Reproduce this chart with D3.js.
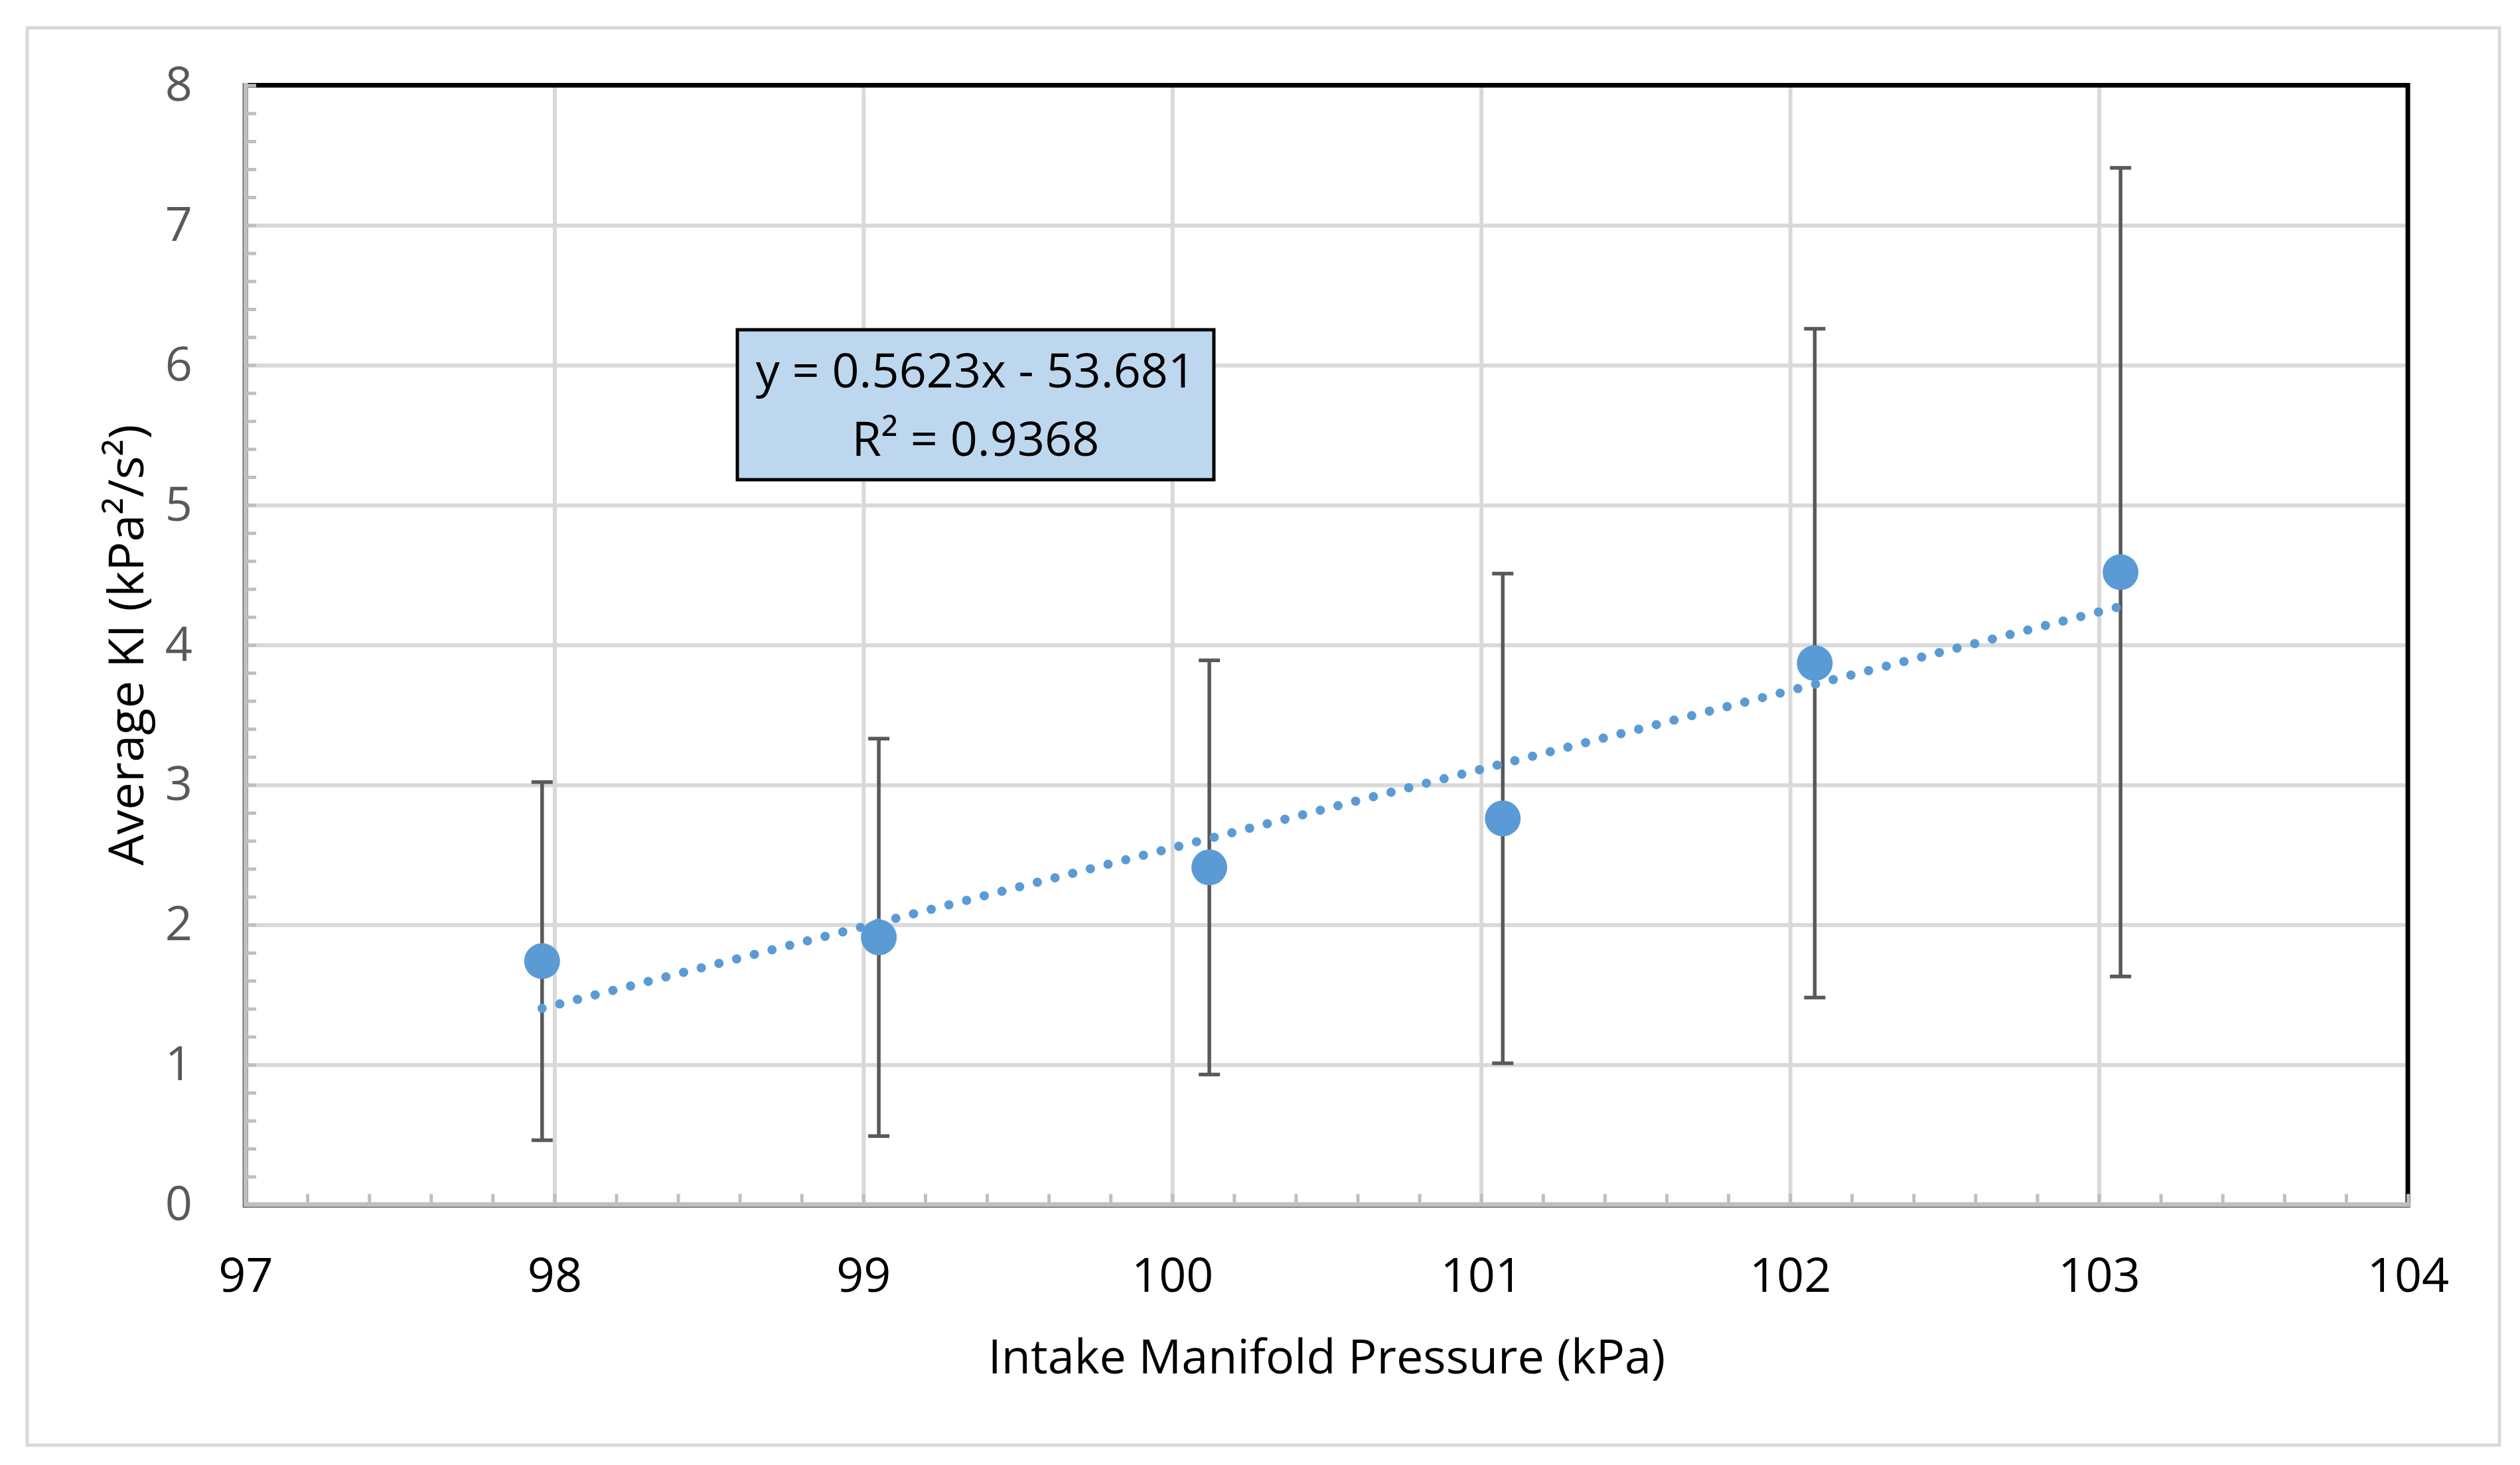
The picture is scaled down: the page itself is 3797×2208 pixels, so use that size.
<!DOCTYPE html>
<html>
<head>
<meta charset="utf-8">
<script src="https://cdn.jsdelivr.net/npm/d3@7/dist/d3.min.js"></script>
<style>
    body{margin:0;background:#fff;}
    text{font-family:"Open Sans","Noto Sans",sans-serif;}
</style>
</head>
<body>
<div id="chart"></div>
<script>
// data
const pressure = [97.96, 99.05, 100.12, 101.07, 102.08, 103.07];
const avgKI = [1.74, 1.91, 2.41, 2.76, 3.87, 4.52];
const errKI = [1.28, 1.42, 1.48, 1.75, 2.39, 2.89];
const xTicks = [97, 98, 99, 100, 101, 102, 103, 104];
const yTicks = [0, 1, 2, 3, 4, 5, 6, 7, 8];
const slope = 0.5623;
const intercept = -53.681;
const eqLines = ['y = 0.5623x - 53.681', 'R² = 0.9368'];

document.addEventListener('DOMContentLoaded', function(){
    const w = 3797;
    const h = 2208;
    const left = 370, right = 3628, top = 128.5, bottom = 1815.5;

    const xScale = d3.scaleLinear().domain([97, 104]).range([left, right]);
    const yScale = d3.scaleLinear().domain([0, 8]).range([bottom, top]);

    const svg = d3.select('#chart')
                  .append('svg')
                  .attr('width', w)
                  .attr('height', h);

    svg.append('rect').attr('width', w).attr('height', h).attr('fill', '#fff');

    // outer chart frame
    svg.append('rect')
        .attr('x', 41).attr('y', 42)
        .attr('width', 3725).attr('height', 2136)
        .attr('fill', 'none')
        .attr('stroke', '#d9d9d9')
        .attr('stroke-width', 5);

    // gridlines
    svg.append('g')
        .attr('transform', `translate(0,${bottom})`)
        .call(d3.axisBottom(xScale).tickValues(xTicks).tickSize(-(bottom - top)).tickFormat(''))
        .call(g => {
            g.select('.domain').remove();
            g.selectAll('line').attr('stroke', '#d9d9d9').attr('stroke-width', 6);
        });
    svg.append('g')
        .attr('transform', `translate(${left},0)`)
        .call(d3.axisLeft(yScale).tickValues(yTicks).tickSize(-(right - left)).tickFormat(''))
        .call(g => {
            g.select('.domain').remove();
            g.selectAll('line').attr('stroke', '#d9d9d9').attr('stroke-width', 6);
        });

    // black plot border
    svg.append('rect')
        .attr('x', left).attr('y', top)
        .attr('width', right - left).attr('height', bottom - top)
        .attr('fill', 'none')
        .attr('stroke', '#000')
        .attr('stroke-width', 7);

    // minor ticks (every 0.2), pointing inward
    const xMinor = d3.range(97, 104.001, 0.2);
    const yMinor = d3.range(0, 8.001, 0.2);
    svg.append('g')
        .attr('transform', `translate(0,${bottom})`)
        .call(d3.axisBottom(xScale).tickValues(xMinor).tickSize(-16).tickFormat(''))
        .call(g => {
            g.select('.domain').remove();
            g.selectAll('line').attr('stroke', '#bfbfbf').attr('stroke-width', 5);
        });
    svg.append('g')
        .attr('transform', `translate(${left},0)`)
        .call(d3.axisLeft(yScale).tickValues(yMinor).tickSize(-16).tickFormat(''))
        .call(g => {
            g.select('.domain').remove();
            g.selectAll('line').attr('stroke', '#bfbfbf').attr('stroke-width', 5);
        });

    // gray axis lines with thin dark edge
    svg.append('path')
        .attr('d', `M${left - 3.5},${top - 3.5}V${bottom + 3.5}H${right + 3.5}`)
        .attr('fill', 'none').attr('stroke', '#000').attr('stroke-width', 1.5);
    svg.append('path')
        .attr('d', `M${left},${top - 3.5}V${bottom}H${right + 3.5}`)
        .attr('fill', 'none').attr('stroke', '#bfbfbf').attr('stroke-width', 7);

    // tick labels
    svg.append('g')
        .attr('transform', `translate(0,${bottom})`)
        .call(d3.axisBottom(xScale).tickValues(xTicks).tickSize(0).tickPadding(80).tickFormat(d3.format('d')))
        .call(g => {
            g.select('.domain').remove();
            g.selectAll('text').attr('font-size', 72).attr('font-family', '"Open Sans"').attr('fill', '#000');
        });
    svg.append('g')
        .attr('transform', `translate(${left},0)`)
        .call(d3.axisLeft(yScale).tickValues(yTicks).tickSize(0).tickPadding(80).tickFormat(d3.format('d')))
        .call(g => {
            g.select('.domain').remove();
            g.selectAll('text').attr('font-size', 72).attr('font-family', '"Open Sans"').attr('fill', '#595959');
        });

    // axis titles
    svg.append('text')
        .attr('x', (left + right) / 2).attr('y', 2070)
        .attr('text-anchor', 'middle')
        .attr('font-size', 72)
        .attr('fill', '#000')
        .text('Intake Manifold Pressure (kPa)');
    svg.append('text')
        .attr('transform', `translate(216,${(top + bottom) / 2}) rotate(-90)`)
        .attr('text-anchor', 'middle')
        .attr('font-size', 74)
        .attr('fill', '#000')
        .text('Average KI (kPa²/s²)');

    // error bars
    const bars = svg.append('g').attr('stroke', '#595959').attr('stroke-width', 5.5);
    pressure.forEach((p, i) => {
        const lo = avgKI[i] - errKI[i], hi = avgKI[i] + errKI[i];
        bars.append('line')
            .attr('x1', xScale(p)).attr('x2', xScale(p))
            .attr('y1', yScale(lo)).attr('y2', yScale(hi));
        [lo, hi].forEach(v => {
            bars.append('line')
                .attr('x1', xScale(p) - 16).attr('x2', xScale(p) + 16)
                .attr('y1', yScale(v)).attr('y2', yScale(v));
        });
    });

    // linear trendline (dotted)
    const xMin = d3.min(pressure), xMax = d3.max(pressure);
    svg.append('line')
        .attr('x1', xScale(xMin)).attr('y1', yScale(slope * xMin + intercept))
        .attr('x2', xScale(xMax)).attr('y2', yScale(slope * xMax + intercept))
        .attr('stroke', '#5b9bd5')
        .attr('stroke-width', 14)
        .attr('stroke-linecap', 'round')
        .attr('stroke-dasharray', '0 27.5');

    // markers
    svg.selectAll('circle.pt')
        .data(pressure)
        .enter()
        .append('circle')
        .attr('class', 'pt')
        .attr('cx', d => xScale(d))
        .attr('cy', (d, i) => yScale(avgKI[i]))
        .attr('r', 27)
        .attr('fill', '#5b9bd5');

    // equation label
    svg.append('rect')
        .attr('x', 1111).attr('y', 497)
        .attr('width', 718).attr('height', 226)
        .attr('fill', '#bdd7ee')
        .attr('stroke', '#000')
        .attr('stroke-width', 5);
    svg.append('g')
        .selectAll('text')
        .data(eqLines)
        .enter()
        .append('text')
        .attr('x', 1470)
        .attr('y', (d, i) => 584 + i * 103)
        .attr('text-anchor', 'middle')
        .attr('font-size', 72)
        .attr('fill', '#000')
        .text(d => d);
});
</script>
</body>
</html>
